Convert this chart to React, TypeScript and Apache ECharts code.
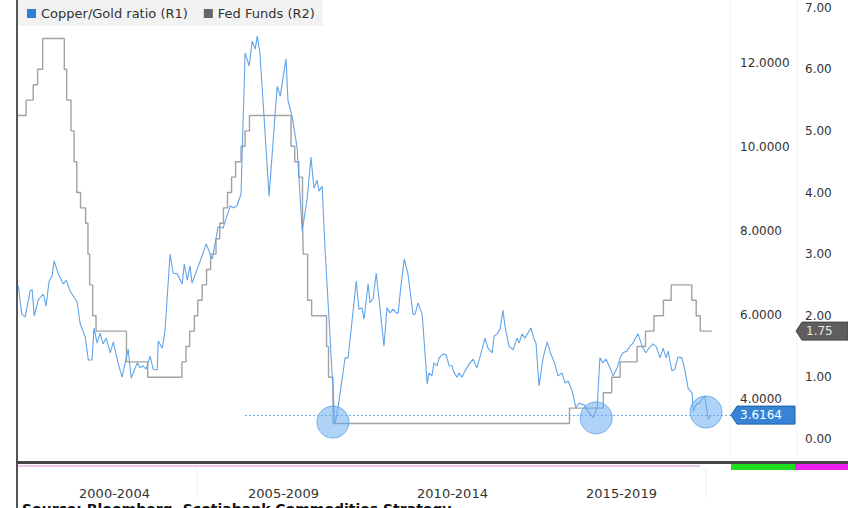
import React, { useEffect, useRef } from "react";
import * as echarts from "echarts";

const periodLabels = ["2000-2004", "2005-2009", "2010-2014", "2015-2019"];
const seriesNames = ["Copper/Gold ratio (R1)", "Fed Funds (R2)"];
const sourceText = "Source: Bloomberg, Scotiabank Commodities Strategy";

const copperDates = [1999.65, 1999.75, 1999.85, 2000.0, 2000.06, 2000.12, 2000.24, 2000.39, 2000.47, 2000.56, 2000.65, 2000.71, 2000.83, 2000.98, 2001.07, 2001.18, 2001.39, 2001.48, 2001.63, 2001.72, 2001.83, 2001.89, 2001.98, 2002.07, 2002.16, 2002.25, 2002.37, 2002.46, 2002.6, 2002.72, 2002.9, 2002.99, 2003.17, 2003.25, 2003.34, 2003.43, 2003.55, 2003.64, 2003.76, 2003.79, 2003.91, 2003.99, 2004.14, 2004.23, 2004.35, 2004.5, 2004.56, 2004.65, 2004.73, 2004.79, 2005.0, 2005.21, 2005.39, 2005.56, 2005.71, 2005.92, 2006.01, 2006.12, 2006.24, 2006.36, 2006.48, 2006.57, 2006.66, 2006.72, 2006.8, 2007.07, 2007.31, 2007.4, 2007.57, 2007.63, 2007.75, 2007.9, 2008.05, 2008.2, 2008.31, 2008.4, 2008.49, 2008.55, 2008.64, 2008.73, 2009.02, 2009.11, 2009.32, 2009.41, 2009.65, 2009.73, 2009.82, 2009.88, 2010.0, 2010.06, 2010.15, 2010.24, 2010.33, 2010.47, 2010.56, 2010.65, 2010.74, 2010.83, 2010.89, 2010.98, 2011.07, 2011.18, 2011.33, 2011.39, 2011.48, 2011.6, 2011.75, 2011.8, 2011.89, 2011.95, 2012.04, 2012.1, 2012.22, 2012.31, 2012.4, 2012.49, 2012.52, 2012.63, 2012.69, 2012.78, 2012.87, 2012.99, 2013.11, 2013.22, 2013.28, 2013.46, 2013.55, 2013.67, 2013.73, 2013.82, 2013.91, 2013.99, 2014.05, 2014.17, 2014.29, 2014.41, 2014.47, 2014.56, 2014.64, 2014.82, 2014.91, 2014.97, 2015.06, 2015.18, 2015.3, 2015.41, 2015.53, 2015.62, 2015.74, 2015.83, 2015.92, 2016.04, 2016.15, 2016.24, 2016.39, 2016.51, 2016.66, 2016.78, 2016.86, 2016.95, 2017.04, 2017.16, 2017.25, 2017.37, 2017.46, 2017.54, 2017.66, 2017.75, 2017.84, 2017.9, 2017.99, 2018.08, 2018.14, 2018.22, 2018.31, 2018.43, 2018.52, 2018.64, 2018.73, 2018.82, 2018.88, 2018.99, 2019.08, 2019.17, 2019.29, 2019.38, 2019.47, 2019.59, 2019.62, 2019.73, 2019.79, 2019.88, 2019.97, 2020.06, 2020.15];

const copperValues = [6.69, 6.02, 5.95, 6.57, 6.6, 5.98, 6.36, 6.5, 6.21, 6.81, 6.93, 7.29, 6.98, 6.74, 6.83, 6.57, 6.31, 5.79, 5.48, 4.93, 4.93, 5.69, 5.33, 5.57, 5.31, 5.45, 5.1, 5.36, 4.86, 4.52, 5.19, 4.5, 4.86, 4.74, 4.79, 4.71, 5.02, 4.71, 4.69, 5.38, 5.21, 5.62, 7.45, 7.0, 6.98, 6.74, 7.21, 6.83, 7.17, 6.76, 7.21, 7.69, 7.33, 8.1, 8.07, 8.6, 8.55, 8.6, 8.88, 12.24, 11.93, 12.52, 12.33, 12.64, 12.24, 8.83, 11.45, 11.21, 12.1, 11.1, 10.74, 9.98, 8.0, 8.79, 9.76, 9.02, 9.21, 8.95, 9.07, 7.52, 3.4, 3.79, 4.98, 4.98, 6.81, 6.14, 6.17, 5.9, 6.74, 6.29, 6.4, 7.0, 6.33, 5.26, 6.17, 6.05, 6.14, 6.05, 6.05, 6.74, 7.33, 6.98, 6.02, 6.02, 6.29, 6.02, 4.36, 4.62, 4.55, 4.86, 4.79, 4.98, 5.07, 5.05, 4.79, 4.79, 4.67, 4.52, 4.62, 4.52, 4.67, 4.83, 4.95, 4.74, 4.9, 5.45, 5.21, 5.1, 5.5, 5.55, 5.67, 6.12, 5.74, 5.26, 5.17, 5.45, 5.33, 5.55, 5.45, 5.69, 5.43, 5.33, 4.31, 4.98, 5.36, 5.07, 4.83, 4.55, 4.62, 4.38, 4.43, 4.19, 3.79, 3.9, 3.86, 3.71, 3.55, 3.79, 4.98, 4.86, 4.95, 4.74, 4.55, 4.74, 4.98, 5.1, 5.14, 5.26, 5.33, 5.43, 5.55, 5.33, 5.21, 5.1, 5.21, 5.31, 5.26, 4.98, 5.21, 4.98, 5.14, 4.67, 4.71, 5.0, 4.98, 4.67, 4.26, 4.14, 3.71, 3.9, 3.88, 4.0, 4.07, 3.52, 3.6164];

const fedDates = [1999.64, 1999.88, 2000.09, 2000.22, 2000.37, 2001.01, 2001.08, 2001.21, 2001.3, 2001.38, 2001.49, 2001.64, 2001.71, 2001.76, 2001.85, 2001.95, 2002.85, 2003.48, 2004.49, 2004.61, 2004.72, 2004.86, 2004.96, 2005.09, 2005.22, 2005.34, 2005.5, 2005.61, 2005.72, 2005.84, 2005.96, 2006.08, 2006.24, 2006.36, 2006.49, 2007.72, 2007.83, 2007.95, 2008.06, 2008.08, 2008.21, 2008.33, 2008.77, 2008.83, 2008.96, 2015.96, 2016.96, 2017.21, 2017.46, 2017.96, 2018.21, 2018.46, 2018.74, 2018.97, 2019.58, 2019.71, 2019.83, 2020.17];

const fedValues = [5.25, 5.5, 5.75, 6.0, 6.5, 6.0, 5.5, 5.0, 4.5, 4.0, 3.75, 3.5, 3.0, 2.5, 2.0, 1.75, 1.25, 1.0, 1.25, 1.5, 1.75, 2.0, 2.25, 2.5, 2.75, 3.0, 3.25, 3.5, 3.75, 4.0, 4.25, 4.5, 4.75, 5.0, 5.25, 4.75, 4.5, 4.25, 3.5, 3.0, 2.25, 2.0, 1.5, 1.0, 0.25, 0.5, 0.75, 1.0, 1.25, 1.5, 1.75, 2.0, 2.25, 2.5, 2.25, 2.0, 1.75, 1.75];

const highlightDates = [2008.96, 2016.75, 2020.0];
const highlightValues = [3.45, 3.55, 3.69];
const lastCopper = 3.6164;
const lastFed = 1.75;
const refLineStart = 2006.36;
const xMin = 1999.64;
const xMax = 2020.74;

export default function App() {
  const ref = useRef<HTMLDivElement>(null);
  useEffect(() => {
    document.body.style.margin = "0";
    const chart = echarts.init(ref.current!, null, { renderer: "svg" });
    const font = "DejaVu Sans";
    chart.setOption({
      animation: false,
      backgroundColor: "#ffffff",
      textStyle: { fontFamily: font },
      legend: {
        left: 18,
        top: 0,
        icon: "rect",
        itemWidth: 9,
        itemHeight: 9,
        itemGap: 16,
        backgroundColor: "#f2f2f2",
        padding: [7, 8, 6, 9],
        textStyle: { fontFamily: font, fontSize: 13, color: "#333" },
        data: [
          { name: seriesNames[0], itemStyle: { color: "#2f7fd8" } },
          { name: seriesNames[1], itemStyle: { color: "#666666" } },
        ],
      },
      grid: [
        { left: 18, right: 848 - 731, top: 0, bottom: 46 },
        { left: 30, right: 848 - 706, top: 0, bottom: 46 },
      ],
      xAxis: [
        {
          type: "value",
          gridIndex: 0,
          min: xMin,
          max: xMax,
          axisLine: { show: false },
          axisTick: { show: false },
          axisLabel: { show: false },
          splitLine: { show: false },
        },
        {
          type: "category",
          gridIndex: 1,
          data: periodLabels,
          boundaryGap: true,
          axisLine: { show: false },
          axisTick: { show: false },
          splitLine: { show: false },
          axisLabel: { margin: 25, fontSize: 13, color: "#333", fontFamily: font },
        },
      ],
      yAxis: [
        {
          type: "value",
          gridIndex: 0,
          position: "right",
          min: 2.5,
          max: 13.5,
          interval: 0.5,
          axisLine: { show: false },
          axisTick: { show: false },
          splitLine: { show: false },
          axisLabel: {
            margin: 9,
            fontSize: 12,
            color: "#333",
            fontFamily: font,
            formatter: (v: number) => (Math.abs(v % 2) < 1e-9 ? v.toFixed(4) : ""),
          },
        },
        {
          type: "value",
          gridIndex: 0,
          position: "right",
          offset: 65,
          min: -0.375,
          max: 7.125,
          interval: 0.125,
          axisLine: { show: false },
          axisTick: { show: false },
          splitLine: { show: false },
          axisLabel: {
            margin: 9,
            fontSize: 12,
            color: "#333",
            fontFamily: font,
            formatter: (v: number) =>
              Math.abs(v - Math.round(v)) < 1e-9 && v >= 0 ? v.toFixed(2) : "",
          },
        },
        { type: "value", gridIndex: 1, show: false, min: 0, max: 1 },
      ],
      series: [
        {
          name: seriesNames[0],
          type: "line",
          xAxisIndex: 0,
          yAxisIndex: 0,
          showSymbol: false,
          symbol: "none",
          z: 3,
          itemStyle: { color: "#2f7fd8" },
          lineStyle: { color: "#62a4ea", width: 1.1 },
          data: copperDates.map((d, i) => [d, copperValues[i]]),
          markPoint: {
            symbol: "circle",
            symbolSize: 32,
            silent: true,
            label: { show: false },
            itemStyle: {
              color: "rgba(110,175,240,0.55)",
              borderColor: "rgba(90,160,235,0.8)",
              borderWidth: 1,
            },
            data: highlightDates.map((d, i) => ({ coord: [d, highlightValues[i]] })),
          },
          markLine: {
            silent: true,
            symbol: ["none", "none"],
            label: { show: false },
            lineStyle: { type: [2, 2], color: "#6aaef0", width: 1.2, opacity: 1 },
            data: [[{ coord: [refLineStart, lastCopper] }, { coord: [xMax, lastCopper] }]],
          },
        },
        {
          name: seriesNames[1],
          type: "line",
          step: "end",
          xAxisIndex: 0,
          yAxisIndex: 1,
          showSymbol: false,
          symbol: "none",
          z: 2,
          itemStyle: { color: "#666666" },
          lineStyle: { color: "#a2a2a2", width: 1.4 },
          data: fedDates.map((d, i) => [d, fedValues[i]]),
        },
      ],
    });

    const yC = chart.convertToPixel({ yAxisIndex: 0 }, lastCopper) as number;
    const yF = chart.convertToPixel({ yAxisIndex: 1 }, lastFed) as number;

    chart.setOption({
      graphic: [
        { type: "line", shape: { x1: 730, y1: 0, x2: 730, y2: 460 }, style: { stroke: "#f2f2f2", lineWidth: 1 }, z: 0 },
        { type: "line", shape: { x1: 797, y1: 0, x2: 797, y2: 460 }, style: { stroke: "#f2f2f2", lineWidth: 1 }, z: 0 },
        { type: "line", shape: { x1: 197, y1: 468, x2: 197, y2: 498 }, style: { stroke: "#eeeeee", lineWidth: 1 }, z: 0 },
        { type: "line", shape: { x1: 706, y1: 468, x2: 706, y2: 498 }, style: { stroke: "#eeeeee", lineWidth: 1 }, z: 0 },
        { type: "rect", shape: { x: 16, y: 0, width: 2, height: 508 }, style: { fill: "#555555" }, z: 10 },
        { type: "rect", shape: { x: 16, y: 461, width: 832, height: 3 }, style: { fill: "#474747" }, z: 10 },
        { type: "rect", shape: { x: 18, y: 465, width: 682, height: 2 }, style: { fill: "#f1c3f1" }, z: 10 },
        { type: "rect", shape: { x: 731, y: 464, width: 64, height: 6 }, style: { fill: "#1ee01e" }, z: 10 },
        { type: "rect", shape: { x: 795, y: 464, width: 53, height: 6 }, style: { fill: "#ee1fee" }, z: 10 },
        {
          type: "polygon",
          z: 20,
          shape: { points: [[731, yC], [737, yC - 9], [795, yC - 9], [795, yC + 9], [737, yC + 9]] },
          style: { fill: "#3784d6", stroke: "#1d5ea6", lineWidth: 1 },
        },
        {
          type: "text",
          z: 21,
          x: 740,
          y: yC,
          style: { text: lastCopper.toFixed(4), fill: "#ffffff", font: `12px '${font}'`, verticalAlign: "middle", align: "left" },
        },
        {
          type: "polygon",
          z: 20,
          shape: { points: [[796, yF], [802, yF - 9], [848, yF - 9], [848, yF + 9], [802, yF + 9]] },
          style: { fill: "#5e5e5e", stroke: "#444444", lineWidth: 1 },
        },
        {
          type: "text",
          z: 21,
          x: 806,
          y: yF,
          style: { text: lastFed.toFixed(2), fill: "#e6e6e6", font: `12px '${font}'`, verticalAlign: "middle", align: "left" },
        },
        {
          type: "text",
          z: 21,
          x: 22,
          y: 502,
          style: { text: sourceText, fill: "#111111", font: `bold 14px '${font}'`, verticalAlign: "top", align: "left" },
        },
      ],
    });

    return () => chart.dispose();
  }, []);
  return <div ref={ref} style={{ position: "fixed", left: 0, top: 0, width: 848, height: 508 }} />;
}
